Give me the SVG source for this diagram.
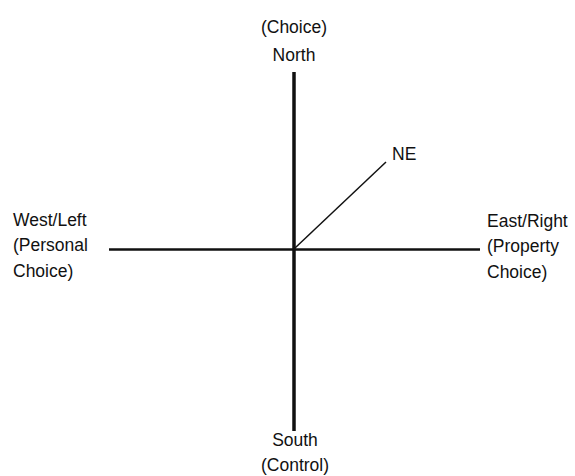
<svg xmlns="http://www.w3.org/2000/svg" width="575" height="476" viewBox="0 0 575 476">
<style>
text{font-family:"Liberation Sans",Arial,sans-serif;font-size:17.5px;fill:#111}
.c{text-anchor:middle}
.ax{stroke:#111;fill:none}
</style>
<rect width="575" height="476" fill="#fff"/>
<g id="connectors">
<line class="ax" x1="294" y1="72" x2="294" y2="431" stroke-width="3.5"/>
<line class="ax" x1="109" y1="249.5" x2="480" y2="249.5" stroke-width="2.5"/>
<line class="ax" x1="295" y1="248" x2="386" y2="162" stroke-width="1.5"/>
</g>
<g id="north"><text class="c" x="294" y="33">(Choice)</text><text class="c" x="294" y="61">North</text></g>
<g id="ne"><text x="392" y="160">NE</text></g>
<g id="west"><text x="13" y="226">West/Left</text><text x="13" y="251">(Personal</text><text x="13" y="277">Choice)</text></g>
<g id="east"><text x="487" y="227">East/Right</text><text x="487" y="252">(Property</text><text x="487" y="278">Choice)</text></g>
<g id="south"><text class="c" x="295" y="446">South</text><text class="c" x="295" y="471">(Control)</text></g>
</svg>
